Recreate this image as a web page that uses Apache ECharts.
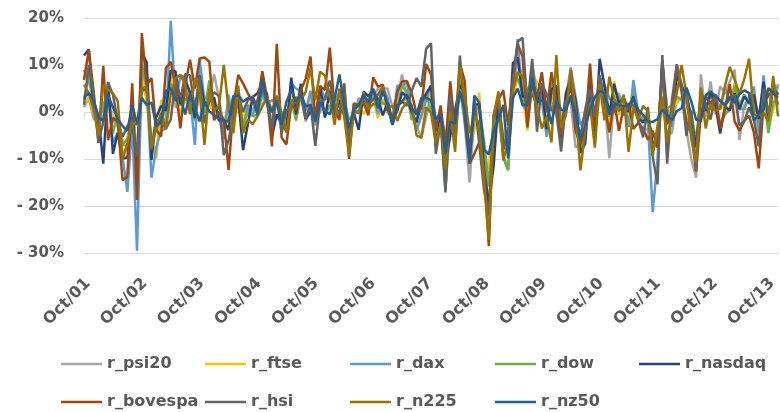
<!DOCTYPE html>
<html>
<head>
<meta charset="utf-8">
<script src="https://cdn.jsdelivr.net/npm/echarts@6/dist/echarts.min.js"></script>
<style>html,body{margin:0;padding:0;background:#fff}#c{width:780px;height:412px}</style>
</head>
<body>
<div id="c"></div>
<script>
// Monthly returns (%), Oct/01 .. Oct/13
const monthNames = ['Oct','Nov','Dec','Jan','Feb','Mar','Apr','May','Jun','Jul','Aug','Sep'];
const startYear = 1; // 2001
const nPoints = 145;
const categories = [];
for (let i = 0; i < nPoints; i++) {
  const m = i % 12;
  const yr = startYear + Math.floor(i / 12) + (m >= 3 ? 1 : 0);
  categories.push(monthNames[m] + '/' + String(yr).padStart(2, '0'));
}
const yTicks = [-30, -20, -10, 0, 10, 20];
const seriesNames = ['r_psi20','r_ftse','r_dax','r_dow','r_nasdaq','r_bovespa','r_hsi','r_n225','r_nz50'];

const r_psi20 = [
 1.0, 3.0, -1.5, -2.0, -1.0, 3.0, -1.5, -3.0, -6.0, -8.0, 1.5, -8.5,
 6.0, 3.0, -6.5, -1.5, -3.5, -1.0, 8.0, 1.0, 1.5, 4.0, 2.0, -2.0,
 5.5, 0.0, 3.5, 8.0, 3.0, -3.5, 1.0, -3.0, 3.0, -2.0, -0.5, 0.5,
 2.5, 4.5, 2.0, 2.5, 2.0, -2.0, -2.0, 0.5, 2.0, 3.5, -2.0, 1.5,
 -2.0, 0.0, 3.0, 5.0, 2.5, 3.5, 3.5, -5.0, -1.0, 3.0, 2.0, 3.0,
 3.5, 5.0, 5.0, 5.0, 1.0, 3.0, 8.0, 3.0, -0.5, -3.0, -5.5, -1.0,
 3.5, -5.0, -1.5, -16.0, -3.0, -4.5, 6.0, -2.5, -15.0, -1.0, 0.5, -10.0,
 -20.0, -6.0, 0.0, -4.5, -8.0, 4.5, 11.5, 7.0, -1.5, 6.5, 4.5, 3.0,
 -1.5, 2.0, -0.5, -7.0, 2.0, 2.0, -7.5, -7.0, 0.5, 6.0, -4.0, 4.0,
 3.0, -9.8, 3.0, 4.0, -0.5, -1.0, 4.5, -2.0, -4.0, -3.5, -8.0, -6.0,
 2.0, -4.5, -4.5, 3.0, 3.0, -4.0, -10.0, -14.0, 8.0, -1.0, 6.5, -0.5,
 5.5, 4.0, 6.5, 9.0, -6.0, 1.5, 3.0, 2.5, -7.0, 2.5, 4.0, 0.5,
 6.0];
const r_ftse = [
 1.8, 3.0, 0.4, -1.0, 0.9, 2.4, -1.1, -1.2, -8.5, -8.3, 1.3, -12.7,
 8.3, 2.6, -5.6, -9.9, 2.6, -1.3, 8.4, 2.6, -0.4, 2.6, 1.2, -1.4,
 4.5, 1.3, 2.8, -1.8, 2.1, -2.7, 2.3, -0.6, 0.1, -1.1, 1.0, 2.5,
 1.1, 1.8, 2.3, 0.8, 2.4, -1.5, -1.9, 3.3, 3.0, 3.4, 0.3, 3.4,
 -3.0, 2.0, 3.5, 2.5, 0.5, 3.0, 1.0, -5.1, 1.9, 1.6, -0.4, 0.9,
 2.8, -1.3, 2.8, -0.3, -0.5, 2.2, 2.2, 2.7, -0.2, -3.8, -0.9, 2.6,
 3.9, -4.4, 0.4, -9.3, 0.1, -3.2, 6.6, -0.6, -7.3, -3.9, 4.1, -13.8,
 -11.4, -2.1, 3.3, -6.6, -8.0, 2.5, 7.8, 4.0, -3.9, 8.1, 6.3, 4.5,
 -1.7, 2.9, 4.2, -4.2, 3.2, 6.0, -2.2, -6.8, -5.4, 6.7, -0.6, 6.0,
 2.3, -2.6, 6.5, -0.6, 2.2, -1.4, 2.7, -1.3, -0.7, -2.2, -7.5, -5.0,
 7.9, -0.7, 1.2, 1.9, 3.3, -1.8, -0.5, -7.6, 4.6, 1.2, 1.4, 0.5,
 0.7, 1.5, 0.5, 6.2, 1.3, 0.8, 0.3, 2.4, -5.7, 6.3, -3.2, 0.8,
 4.1];
const r_dax = [
 9.0, 6.5, 2.5, -1.0, 0.5, 5.0, -6.5, -4.5, -9.5, -17.0, -2.7, -29.5,
 9.0, 5.5, -14.0, -7.5, -4.0, -3.5, 19.4, 2.1, 7.6, 7.6, 3.5, -7.0,
 11.3, 2.3, 4.5, 0.9, -1.0, -5.7, 3.7, -2.5, 2.7, -4.4, 1.5, -0.9,
 2.7, 3.3, 1.9, 2.4, 2.3, -0.5, -3.9, 6.1, 5.0, 4.4, 0.2, 4.5,
 -2.7, 5.6, 2.6, 3.7, 2.2, 4.0, 1.0, -6.6, 1.0, 1.2, 3.0, 2.6,
 4.1, -0.4, 5.4, 3.0, -2.6, 5.6, 5.6, 6.2, 0.4, -3.8, -0.8, 2.6,
 5.6, -1.8, 0.1, -16.6, 0.7, -7.1, 6.1, 4.1, -10.6, -0.5, 1.8, -9.6,
 -15.8, -6.6, 3.3, -9.8, -12.3, 6.4, 15.5, 1.5, 0.0, 10.4, 3.6, 2.3,
 -5.3, 4.4, 2.9, -6.3, 3.0, 9.5, 3.2, -2.8, -1.0, 3.2, -2.8, 5.0,
 5.8, 2.9, 2.3, 2.3, 3.0, -3.2, 6.8, -0.2, -2.2, -2.1, -21.3, -10.2,
 11.0, 0.8, -3.1, 8.7, 5.9, 1.8, -2.7, -7.5, 2.4, 2.9, 2.9, 3.5,
 0.6, 4.9, 2.7, 2.1, 0.6, 0.7, 3.1, 5.4, -4.2, 7.8, -2.1, 5.9,
 4.9];
const r_dow = [
 2.6, 8.2, 1.7, -1.0, 1.9, 2.9, -4.5, -0.2, -7.1, -5.7, -0.8, -13.2,
 10.1, 5.7, -6.4, -3.6, -2.0, 1.3, 5.9, 4.3, 1.5, 2.8, 2.0, -1.5,
 5.5, -0.2, 6.7, 0.3, 0.9, -2.1, -1.3, -0.4, 2.4, -2.8, 0.3, -0.9,
 -0.5, 3.9, 3.3, -2.7, 2.6, -2.4, -3.0, 2.7, -1.8, 3.5, -1.5, 0.8,
 -1.2, 3.4, -0.8, 1.4, 1.2, 1.1, 2.3, -1.7, -0.2, 0.3, 1.7, 2.6,
 3.4, 1.2, 2.0, 1.3, -2.8, 0.7, 5.6, 4.2, -1.6, -1.5, 1.1, 3.9,
 0.2, -4.1, -0.8, -4.7, -3.0, 0.0, 4.4, -1.4, -10.7, 0.2, 1.4, -6.2,
 -15.2, -5.4, -0.6, -9.2, -12.4, 7.4, 7.0, 4.0, -0.6, 8.3, 3.5, 2.3,
 0.0, 6.3, 0.8, -3.5, 2.5, 6.9, 1.4, -8.2, -3.6, 6.9, -4.4, 7.4,
 3.0, -1.0, 5.1, 2.7, 2.8, 0.8, 3.9, -1.9, -1.2, -2.2, -4.5, -6.2,
 9.1, 0.8, 1.4, 3.3, 2.5, 2.0, 0.0, -6.4, 3.9, 1.0, 0.6, 2.6,
 -2.5, -0.5, 0.6, 5.6, 1.4, 3.7, 1.8, 1.8, -1.4, 3.9, -4.5, 2.1,
 2.7];
const r_nasdaq = [
 12.0, 13.3, 1.0, -0.8, -11.0, 6.4, -8.9, -4.4, -9.9, -9.7, -1.0, -11.5,
 12.7, 10.6, -10.2, -1.1, 1.3, 0.3, 8.8, 8.6, 1.7, 6.7, 4.2, -1.3,
 7.8, 1.5, 2.2, 3.1, -1.8, -1.8, -3.8, 3.4, 3.1, -8.1, -2.6, 3.2,
 4.0, 6.0, 3.7, -5.3, -0.5, -2.6, -4.0, 7.3, -0.5, 6.0, -1.5, 0.0,
 -1.5, 5.2, -1.2, 4.5, -1.1, 2.6, -0.7, -6.4, -0.3, -3.8, 4.3, 3.4,
 4.7, 2.7, -0.7, 2.0, -1.9, 0.2, 4.2, 3.1, 0.0, -2.2, 2.0, 3.9,
 5.6, -7.2, -0.3, -10.4, -5.1, 0.3, 5.7, 4.5, -9.5, 1.4, 1.8, -12.3,
 -19.5, -11.4, 2.7, -6.6, -6.9, 10.4, 11.6, 3.3, 3.3, 7.5, 1.5, 5.4,
 -3.7, 4.8, 5.6, -5.5, 4.1, 6.9, 2.6, -8.7, -6.7, 6.7, -6.4, 11.3,
 5.7, -0.4, 6.0, 1.8, 3.0, 0.0, 3.3, -1.3, -2.2, -0.6, -6.6, -6.6,
 10.5, -2.4, -0.6, 7.7, 5.3, 4.1, -1.5, -7.5, 3.7, 0.2, 4.2, 1.6,
 -4.6, 1.1, 0.3, 4.0, 0.6, 3.3, 1.9, 3.7, -1.5, 6.4, -1.0, 5.0,
 3.8];
const r_bovespa = [
 6.8, 13.2, 4.4, -6.6, 9.8, -6.0, -1.3, -2.0, -14.5, -13.8, 6.1, -18.7,
 16.8, 5.7, 7.2, -3.8, -5.2, 9.3, 10.7, 5.4, -3.5, 5.7, 11.1, 5.0,
 11.4, 11.6, 10.7, -1.7, 0.0, -1.7, -12.3, 1.1, 7.9, 6.1, 4.0, 2.0,
 2.0, 8.7, 3.0, -7.3, 14.5, -5.4, -6.9, 1.5, 0.5, 4.6, 7.1, 11.8,
 -1.5, 5.5, 4.7, 13.7, 0.6, -1.7, 6.1, -10.0, 1.8, 1.2, 2.1, -0.7,
 7.4, 5.4, 5.8, 0.4, -1.7, 4.3, 6.5, 6.6, 4.0, -0.4, 0.8, 10.2,
 8.0, -4.0, 1.4, -7.3, 6.5, -4.1, 10.3, 6.6, -11.0, -8.9, -6.5, -12.0,
 -28.5, -1.8, 2.6, 4.6, -2.9, 7.2, 14.4, 11.8, -3.3, 5.9, 3.1, 8.5,
 0.0, 8.5, 2.3, -4.8, 1.7, 5.7, -4.1, -6.8, -3.4, 10.3, -3.6, 6.4,
 1.8, -4.3, 2.3, -4.0, 1.2, 1.8, -3.6, -2.3, -3.5, -5.9, -4.0, -7.6,
 10.9, -2.6, -0.2, 10.1, 4.2, -2.0, -4.3, -12.7, -0.3, 3.2, 1.7, 3.6,
 -3.6, 0.7, 5.9, -2.0, -4.0, -1.9, -0.8, -4.4, -12.0, 1.6, 3.6, 4.5,
 3.6];
const r_hsi = [
 1.5, 10.0, 3.5, -6.2, -2.2, 6.3, 3.7, -2.0, -5.3, -3.0, -1.6, -9.5,
 4.6, 4.8, -8.0, -1.7, -2.5, -3.5, -1.6, 7.1, 2.7, 8.1, 7.8, 0.6,
 7.6, -2.4, 2.3, 4.2, 3.4, -9.2, -6.0, -0.5, 3.8, 0.0, 2.5, 3.3,
 0.8, 5.2, 1.7, -3.6, 3.5, -4.6, 0.3, 1.1, 2.3, 3.6, -1.4, 1.7,
 -7.2, 2.2, 2.8, 6.7, 1.6, -0.4, 5.3, -5.8, 1.5, 1.7, 2.4, 1.6,
 2.7, 3.7, 5.3, 1.6, -2.7, 1.1, 2.2, 1.3, 4.5, 7.2, 5.4, 13.5,
 14.6, -8.9, -2.2, -17.1, 3.7, -6.3, 12.0, -1.9, -10.4, 2.8, -6.6, -16.6,
 -22.0, -0.6, 3.5, -8.0, -3.9, 5.8, 15.0, 15.8, 1.1, 11.3, -4.2, 6.1,
 3.7, 0.3, 0.2, -8.4, 2.4, 3.1, -1.8, -5.0, 0.4, 4.9, -0.7, 7.9,
 2.6, -0.5, 0.0, 1.8, -0.7, 1.4, 1.5, -1.7, -5.4, 1.1, -9.5, -15.4,
 12.1, -11.0, 2.6, 10.1, 5.8, -5.1, 0.3, -12.4, 4.4, 1.6, -1.6, 3.7,
 2.3, 1.3, 2.8, 3.7, -2.8, -2.0, 1.0, -1.7, -7.3, 5.0, -0.3, 5.0,
 1.5];
const r_n225 = [
 5.8, 4.0, 0.5, -5.0, 5.8, 4.7, 4.0, 2.3, -10.1, -6.6, -2.3, -2.7,
 5.0, 5.4, -7.6, -3.4, -0.2, -3.7, 3.7, 7.2, 7.9, 5.8, -0.5, 7.2,
 4.2, -7.0, 5.0, 0.4, 1.2, 10.0, 0.7, -4.5, 5.6, -4.5, -1.6, -2.6,
 -0.9, 1.2, 3.3, -0.1, 3.3, -0.1, -4.4, 2.3, 3.1, 2.6, 4.3, 9.3,
 2.5, 8.6, 7.7, 3.2, -2.7, 5.0, -1.0, -9.3, 0.3, -0.3, 4.2, 0.6,
 1.7, 1.6, 5.5, 0.9, 1.3, -1.9, 0.7, 2.1, 1.5, -5.0, -5.5, 1.0,
 -0.2, -6.6, -2.4, -12.2, 0.1, -8.5, 9.8, 3.4, -4.5, -0.9, -2.4, -14.8,
 -27.2, -0.8, 4.4, -10.3, -6.2, 4.5, 8.5, 7.5, 4.5, 3.9, 1.3, -3.5,
 -1.0, -6.5, 12.1, -3.3, -0.7, 9.0, 0.4, -12.4, -4.0, 1.6, -7.6, 6.0,
 -1.8, 7.5, 2.9, 0.1, 3.7, -8.5, 1.0, -1.6, 1.3, 0.2, -9.3, -2.9,
 3.3, -6.4, 0.2, 4.0, 10.0, 3.6, -5.7, -10.8, 5.2, -3.5, 1.7, 0.3,
 0.7, 5.6, 9.6, 6.9, 3.8, 7.0, 11.3, -0.6, -0.7, -0.1, -2.0, 7.7,
 -0.9];
const r_nz50 = [
 3.0, 4.0, 2.5, -1.0, -2.0, 3.5, 1.0, -1.5, -3.0, -4.0, 1.5, -2.5,
 3.0, 1.5, 2.0, -3.0, -2.0, 4.5, 5.0, 2.5, 3.0, -0.5, 4.0, 0.8,
 -2.0, 2.2, 0.1, -0.6, -1.5, -1.8, -2.0, 3.3, 3.6, 2.2, 3.0, 3.0,
 -0.6, 7.0, 2.2, 0.0, 2.5, -2.7, 2.2, 4.7, 2.2, 3.6, 1.2, 1.5,
 -2.0, 2.0, 0.2, -0.5, 2.8, 8.0, 1.5, -3.4, 0.5, 1.5, 3.7, 2.0,
 5.0, 0.8, 4.5, 1.5, -2.7, 1.5, 2.2, 3.7, 0.8, -0.6, 3.0, 3.0,
 2.5, -1.5, -0.5, -8.8, -2.0, -2.5, 4.4, 0.5, -11.0, 3.5, 2.0, -8.0,
 -9.0, -4.0, -1.5, 1.5, -9.8, 3.0, 5.0, 1.5, 1.5, 7.0, 2.5, 2.4,
 1.8, -2.5, 2.5, 0.5, 0.3, 3.5, -0.5, -6.0, -3.0, 0.5, 3.2, 4.5,
 4.0, -0.5, 1.8, 1.5, 1.2, 1.4, 2.9, 0.5, -0.6, -2.0, -2.1, -1.5,
 0.5, -0.6, -1.8, 0.2, 0.8, 5.2, 2.3, -1.6, -2.0, 3.5, 4.4, 3.4,
 2.4, 1.6, 3.2, 2.0, 3.8, 4.6, 4.0, -1.8, -0.6, 0.6, 5.1, 4.0,
 3.0];

const seriesData = [r_psi20, r_ftse, r_dax, r_dow, r_nasdaq, r_bovespa, r_hsi, r_n225, r_nz50];
const colors = ['#A5A5A5','#FFC000','#5B9BD5','#70AD47','#264478','#9E480E','#636363','#997300','#255E91'];

const FONT = 'DejaVu Sans';
const TXT = '#595959';
const legendLeft = [61, 205, 350, 495, 639];
const legendTop = [356, 394];

const legends = seriesNames.map((n, k) => ({
  data: [n],
  left: legendLeft[k % 5],
  top: legendTop[Math.floor(k / 5)],
  icon: 'rect',
  itemWidth: 41,
  itemHeight: 2.5,
  padding: 0,
  textStyle: { fontFamily: FONT, fontSize: 16, fontWeight: 'bold', color: TXT }
}));

const yRange = { min: yTicks[0], max: yTicks[yTicks.length - 1], interval: 10 };

const chart = echarts.init(document.getElementById('c'), null, { renderer: 'canvas' });
chart.setOption({
  animation: false,
  color: colors,
  grid: [
    { left: 84, right: 2, top: 18, bottom: 159, containLabel: false },
    { left: 88, right: -2, top: 18, bottom: 159, containLabel: false }
  ],
  legend: legends,
  xAxis: [
    {
      gridIndex: 0,
      type: 'category',
      data: categories,
      boundaryGap: false,
      axisLine: { show: true, onZero: true, lineStyle: { color: '#D9D9D9', width: 1 } },
      axisTick: { show: true, interval: 11, length: 5, lineStyle: { color: '#D9D9D9' } },
      axisLabel: { show: false },
      splitLine: { show: false }
    },
    {
      gridIndex: 1,
      type: 'category',
      data: categories,
      boundaryGap: false,
      axisLine: { show: false, onZero: false },
      axisTick: { show: false },
      splitLine: { show: false },
      axisLabel: {
        interval: 11,
        rotate: 45,
        margin: 28,
        fontFamily: FONT, fontSize: 16, fontWeight: 'bold', color: TXT
      }
    }
  ],
  yAxis: [
    {
      gridIndex: 0,
      type: 'value',
      min: yRange.min, max: yRange.max, interval: yRange.interval,
      axisLine: { show: false },
      axisTick: { show: false },
      splitLine: { lineStyle: { color: '#D9D9D9', width: 1 } },
      axisLabel: {
        margin: 20,
        fontFamily: FONT, fontSize: 15, fontWeight: 'bold', color: TXT,
        formatter: v => v < 0 ? '- ' + Math.abs(v) + '%' : v + '%'
      }
    },
    {
      gridIndex: 1,
      type: 'value',
      min: yRange.min, max: yRange.max, interval: yRange.interval,
      show: false
    }
  ],
  series: seriesNames.map((n, k) => ({
    name: n,
    type: 'line',
    xAxisIndex: 0,
    yAxisIndex: 0,
    data: seriesData[k],
    symbol: 'none',
    lineStyle: { width: 2.5, color: colors[k] },
    itemStyle: { color: colors[k] },
    emphasis: { disabled: true }
  }))
});
</script>
</body>
</html>
